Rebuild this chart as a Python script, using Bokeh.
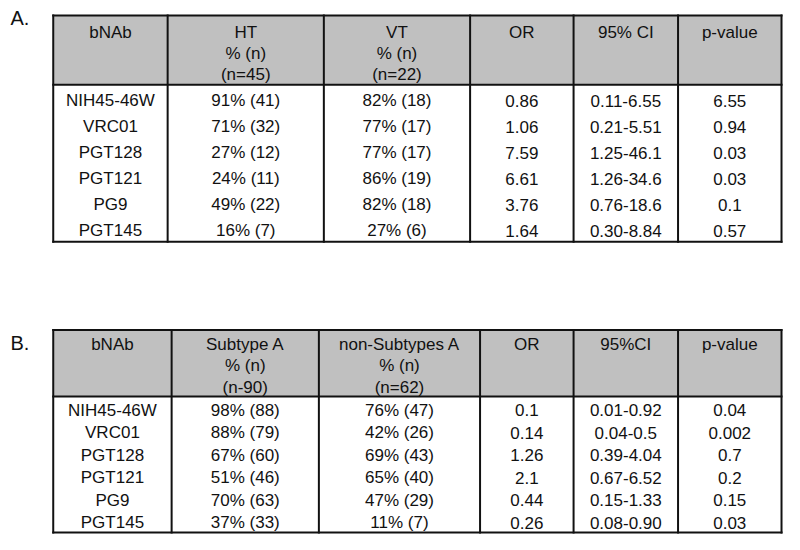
from bokeh.plotting import figure
from bokeh.models import Range1d, ColumnDataSource
from bokeh.core.properties import value
from bokeh.embed import file_html
from bokeh.resources import INLINE

# ---------------- data ----------------
bnabs = ["NIH45-46W", "VRC01", "PGT128", "PGT121", "PG9", "PGT145"]

a_headers = [["bNAb"], ["HT", "% (n)", "(n=45)"], ["VT", "% (n)", "(n=22)"],
             ["OR"], ["95% CI"], ["p-value"]]
a_ht = ["91% (41)", "71% (32)", "27% (12)", "24% (11)", "49% (22)", "16% (7)"]
a_vt = ["82% (18)", "77% (17)", "77% (17)", "86% (19)", "82% (18)", "27% (6)"]
a_or = ["0.86", "1.06", "7.59", "6.61", "3.76", "1.64"]
a_ci = ["0.11-6.55", "0.21-5.51", "1.25-46.1", "1.26-34.6", "0.76-18.6", "0.30-8.84"]
a_p = ["6.55", "0.94", "0.03", "0.03", "0.1", "0.57"]

b_headers = [["bNAb"], ["Subtype A", "% (n)", "(n-90)"], ["non-Subtypes A", "% (n)", "(n=62)"],
             ["OR"], ["95%CI"], ["p-value"]]
b_sa = ["98% (88)", "88% (79)", "67% (60)", "51% (46)", "70% (63)", "37% (33)"]
b_nsa = ["76% (47)", "42% (26)", "69% (43)", "65% (40)", "47% (29)", "11% (7)"]
b_or = ["0.1", "0.14", "1.26", "2.1", "0.44", "0.26"]
b_ci = ["0.01-0.92", "0.04-0.5", "0.39-4.04", "0.67-6.52", "0.15-1.33", "0.08-0.90"]
b_p = ["0.04", "0.002", "0.7", "0.2", "0.15", "0.03"]

panel_labels = ["A.", "B."]

# ---------------- layout ----------------
W, H = 784, 534
FONT = "Liberation Sans"
FS = "17px"
INK = "#111111"

tables = [
    dict(label=panel_labels[0], label_y=22,
         edges=[57, 172, 329, 476, 580, 685, 789], top=19, hbot=89, bottom=247,
         hmid=[17, 38.5, 60], row0=105, drow=26.2,
         headers=a_headers, cols=[bnabs, a_ht, a_vt, a_or, a_ci, a_p]),
    dict(label=panel_labels[1], label_y=349.5,
         edges=[57, 176, 324, 486, 580, 685, 789], top=336, hbot=403, bottom=540,
         hmid=[14.5, 36, 57.5], row0=417, drow=22.6,
         headers=b_headers, cols=[bnabs, b_sa, b_nsa, b_or, b_ci, b_p]),
]

p = figure(width=W, height=H, x_range=Range1d(4, 792), y_range=Range1d(542, 4),
           output_backend="svg", toolbar_location=None, min_border=0,
           x_axis_location=None, y_axis_location=None)
p.grid.visible = False
p.outline_line_color = None
p.background_fill_color = "white"
p.border_fill_color = "white"

tx, ty, tt = [], [], []
lx, ly, lt = [], [], []
hx0, hx1, hy0, hy1 = [], [], [], []
sx0, sy0, sx1, sy1 = [], [], [], []

for t in tables:
    e = t["edges"]
    hx0.append(e[0]); hx1.append(e[-1]); hy0.append(t["top"]); hy1.append(t["hbot"])
    for yy in (t["top"], t["hbot"], t["bottom"]):
        sx0.append(e[0]); sx1.append(e[-1]); sy0.append(yy); sy1.append(yy)
    for xx in e:
        sx0.append(xx); sx1.append(xx); sy0.append(t["top"]); sy1.append(t["bottom"])
    centers = [(e[i] + e[i + 1]) / 2 for i in range(len(e) - 1)]
    for c, lines in zip(centers, t["headers"]):
        for k, s in enumerate(lines):
            tx.append(c); ty.append(t["top"] + t["hmid"][k]); tt.append(s)
    for c, col in zip(centers, t["cols"]):
        for r, s in enumerate(col):
            tx.append(c); ty.append(t["row0"] + r * t["drow"]); tt.append(s)
    lx.append(14); ly.append(t["label_y"]); lt.append(t["label"])

p.quad(left=hx0, right=hx1, top=hy0, bottom=hy1, fill_color="#c0c0c0", line_color=None)
p.segment(x0=sx0, y0=sy0, x1=sx1, y1=sy1, line_color=INK, line_width=2, line_cap="square")

p.text(x="x", y="y", text="t", source=ColumnDataSource(dict(x=tx, y=ty, t=tt)),
       text_align="center", text_baseline="middle", text_color=INK,
       text_font=value(FONT), text_font_size=FS)
p.text(x="x", y="y", text="t", source=ColumnDataSource(dict(x=lx, y=ly, t=lt)),
       text_align="left", text_baseline="middle", text_color=INK,
       text_font=value(FONT), text_font_size="20px")

open("out.html", "w").write(file_html(p, INLINE))
